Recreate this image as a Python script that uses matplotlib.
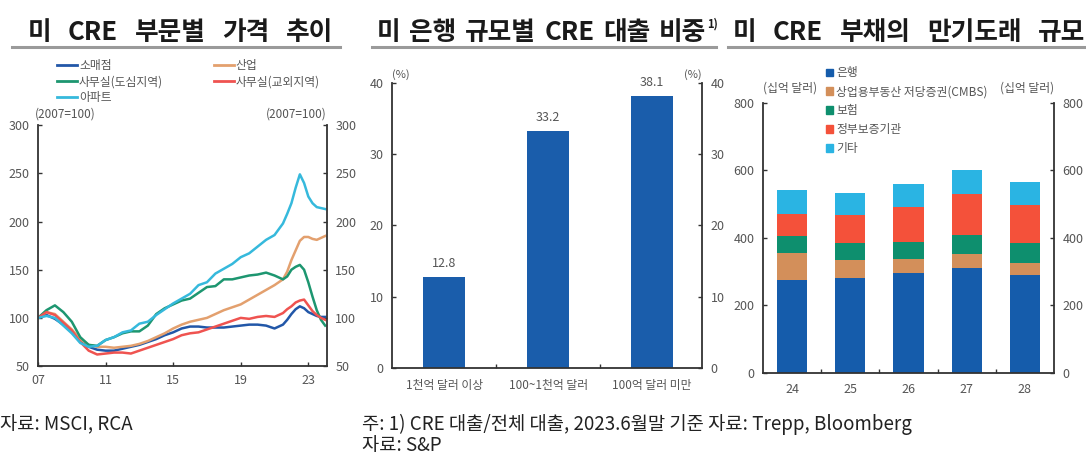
import matplotlib.pyplot as plt
from matplotlib.lines import Line2D
from matplotlib.patches import Patch

plt.rcParams['font.family'] = ['Noto Sans CJK KR', 'DejaVu Sans']

# panel 1: price index (2007=100)
t = [2007.0, 2007.5, 2008.0, 2008.5, 2009.0, 2009.5, 2010.0, 2010.5, 2011.0, 2011.5,
     2012.0, 2012.5, 2013.0, 2013.5, 2014.0, 2014.5, 2015.0, 2015.5, 2016.0, 2016.5,
     2017.0, 2017.5, 2018.0, 2018.5, 2019.0, 2019.5, 2020.0, 2020.5, 2021.0, 2021.5,
     2021.75, 2022.0, 2022.25, 2022.5, 2022.75, 2023.0, 2023.25, 2023.5, 2023.75, 2024.0]
retail = [100, 103, 99, 93, 85, 75, 70, 67, 66, 66, 68, 70, 72, 75, 78, 82, 85, 89, 91, 91,
          90, 90, 90, 91, 92, 93, 93, 92, 89, 93, 98, 104, 109, 112, 110, 106, 104, 102, 101, 101]
industrial = [100, 106, 104, 96, 88, 78, 72, 70, 70, 69, 70, 71, 73, 76, 80, 84, 89, 93, 96, 98,
              100, 104, 108, 111, 114, 119, 124, 129, 134, 140, 148, 160, 170, 180, 184, 184, 182, 181, 183, 185]
office_cbd = [100, 108, 113, 106, 96, 80, 72, 71, 77, 80, 84, 86, 86, 92, 104, 110, 114, 118, 120, 126,
              132, 133, 140, 140, 142, 144, 145, 147, 144, 140, 143, 150, 153, 155, 150, 137, 122, 108, 98, 92]
office_sub = [100, 106, 103, 95, 87, 75, 66, 62, 63, 64, 64, 63, 66, 69, 72, 75, 78, 82, 84, 85,
              88, 91, 94, 97, 100, 99, 101, 102, 101, 105, 109, 112, 116, 118, 119, 113, 107, 103, 100, 98]
apartment = [100, 102, 100, 92, 84, 74, 70, 71, 77, 80, 85, 87, 94, 96, 103, 109, 115, 120, 125, 134,
             137, 146, 151, 156, 163, 167, 174, 181, 186, 198, 208, 219, 235, 249, 240, 226, 219, 215, 214, 213]
line_names = ['소매점', '산업', '사무실(도심지역)', '사무실(교외지역)', '아파트']

# panel 2: CRE loan share by bank size
size_cats = ['1천억 달러 이상', '100~1천억 달러', '100억 달러 미만']
size_share = [12.8, 33.2, 38.1]

# panel 3: CRE debt maturities (billion USD)
years = ['24', '25', '26', '27', '28']
bank = [275, 281, 296, 311, 291]
cmbs = [81, 54, 41, 41, 36]
insurance = [50, 49, 51, 56, 57]
gse = [65, 83, 104, 123, 113]
other = [72, 66, 68, 69, 68]
stack_names = ['은행', '상업용부동산 저당증권(CMBS)', '보험', '정부보증기관', '기타']

c_line = ['#2257a8', '#e3a06e', '#1d9670', '#ef5350', '#36b9dc']
c_stack = ['#155cab', '#d38f5a', '#0e8f6e', '#f4513a', '#2ab4e3']
bar_blue = '#1a5dab'
txt = '#555555'
spine_c = '#333333'

W, H = 1086, 457
fig = plt.figure(figsize=(10.86, 4.57), dpi=100)


def style(ax):
    for s in ['left', 'right', 'bottom']:
        ax.spines[s].set_color(spine_c)
        ax.spines[s].set_linewidth(1.3)
    ax.spines['top'].set_visible(False)
    ax.tick_params(axis='y', direction='in', length=3, width=1, colors=spine_c,
                   labelcolor=txt, labelsize=9, right=True, labelright=True, pad=6)
    ax.tick_params(axis='x', direction='in', length=3, width=1, colors=spine_c,
                   labelcolor=txt, labelsize=9, pad=6)


# ---- panel 1
ax1 = fig.add_axes([0.035, 0.199, 0.266, 0.527])
for ys, c in zip([retail, industrial, office_cbd, office_sub, apartment], c_line):
    ax1.plot(t, ys, color=c, lw=1.8)
ax1.set_xlim(2007, 2024.1)
ax1.set_ylim(50, 300)
ax1.set_yticks([50, 100, 150, 200, 250, 300])
ax1.set_xticks([2007, 2011, 2015, 2019, 2023])
ax1.set_xticklabels(['07', '11', '15', '19', '23'])
style(ax1)
ax1.text(-0.01, 1.02, '(2007=100)', transform=ax1.transAxes, fontsize=8.5, color=txt, ha='left', va='bottom')
ax1.text(1.0, 1.02, '(2007=100)', transform=ax1.transAxes, fontsize=8.5, color=txt, ha='right', va='bottom')
handles = [Line2D([], [], color=c, lw=2) for c in c_line]
order = [0, 2, 4, 1, 3]
ax1.legend([handles[i] for i in order], [line_names[i] for i in order], ncol=2,
           loc='upper left', bbox_to_anchor=(0.066, 1.275), frameon=False, fontsize=8.5,
           handlelength=1.7, handletextpad=0.15, columnspacing=4.3, labelspacing=0.27,
           labelcolor=txt, borderaxespad=0, borderpad=0)

# ---- panel 2
ax2 = fig.add_axes([0.361, 0.1947, 0.2855, 0.624])
x2 = range(len(size_cats))
bars = ax2.bar(x2, size_share, width=0.4, color=bar_blue)
for b, v in zip(bars, size_share):
    ax2.text(b.get_x() + b.get_width() / 2, v + 1.0, f'{v:.1f}', ha='center', va='bottom',
             fontsize=9, color=txt)
ax2.set_xlim(-0.5, 2.48)
ax2.set_ylim(0, 40)
ax2.set_yticks([0, 10, 20, 30, 40])
ax2.set_xticks([0.5, 1.5])
ax2.set_xticklabels([])
style(ax2)
for i, lab in enumerate(size_cats):
    ax2.text(i, -1.6, lab, ha='center', va='top', fontsize=8.5, color=txt)
ax2.text(0.0, 1.01, '(%)', transform=ax2.transAxes, fontsize=8, color=txt, ha='left', va='bottom')
ax2.text(1.0, 1.01, '(%)', transform=ax2.transAxes, fontsize=8, color=txt, ha='right', va='bottom')

# ---- panel 3
ax3 = fig.add_axes([0.7026, 0.1838, 0.268, 0.591])
x3 = range(len(years))
bottom = [0] * len(years)
for vals, c in zip([bank, cmbs, insurance, gse, other], c_stack):
    ax3.bar(x3, vals, bottom=bottom, width=0.52, color=c)
    bottom = [b + v for b, v in zip(bottom, vals)]
ax3.set_xlim(-0.5, 4.5)
ax3.set_ylim(0, 800)
ax3.set_yticks([0, 200, 400, 600, 800])
ax3.set_xticks([0.5, 1.5, 2.5, 3.5])
ax3.set_xticklabels([])
style(ax3)
for i, lab in enumerate(years):
    ax3.text(i, -30, lab, ha='center', va='top', fontsize=9, color=txt)
ax3.text(0.0, 1.03, '(십억 달러)', transform=ax3.transAxes, fontsize=8.5, color=txt, ha='left', va='bottom')
ax3.text(1.0, 1.03, '(십억 달러)', transform=ax3.transAxes, fontsize=8.5, color=txt, ha='right', va='bottom')
ax3.legend([Patch(color=c) for c in c_stack], stack_names, loc='upper left',
           bbox_to_anchor=(0.215, 1.135), frameon=False, fontsize=8.5, handlelength=0.6,
           handleheight=0.6, handletextpad=0.3, labelspacing=0.5, labelcolor=txt,
           borderaxespad=0, borderpad=0)

# ---- titles: words spread over the width of each panel header, underlined
renderer = fig.canvas.get_renderer()


def spread_title(words, x0, x1=None, gap=None, y=40, size=18.5):
    objs = [fig.text(0, 1 - y / H, w, fontsize=size, color='#1a1a1a', ha='left',
                     va='baseline', fontweight='bold') for w in words]
    widths = [o.get_window_extent(renderer).width for o in objs]
    if gap is None:
        gap = (x1 - x0 - sum(widths)) / (len(words) - 1)
    x = x0
    for o, wd in zip(objs, widths):
        o.set_x(x / W)
        x += wd + gap
    return x - gap, gap


_, g1 = spread_title(['미', 'CRE', '부문별', '가격', '추이'], 28, 333)
end2, _ = spread_title(['미', '은행', '규모별', 'CRE', '대출', '비중'], 377, 706)
spread_title(['미', 'CRE', '부채의', '만기도래', '규모'], 733, gap=g1)
fig.text((end2 + 1) / W, 1 - 28 / H, '1)', fontsize=8, fontweight='bold', color='#1a1a1a',
         ha='left', va='baseline')
for u0, u1 in [(12, 340), (372, 716), (728, 1086)]:
    fig.add_artist(Line2D([u0 / W, u1 / W], [1 - 47 / H] * 2, color='#9a9a9a', lw=2.2))

# ---- sources
fig.text(0, 1 - 430 / H, '자료: MSCI, RCA', fontsize=13.5, color='#222222', ha='left', va='baseline')
fig.text(362 / W, 1 - 430 / H, '주: 1) CRE 대출/전체 대출, 2023.6월말 기준 자료: Trepp, Bloomberg',
         fontsize=13.5, color='#222222', ha='left', va='baseline')
fig.text(362 / W, 1 - 451 / H, '자료: S&P', fontsize=13.5, color='#222222', ha='left', va='baseline')

fig.savefig('out.png', dpi=100)
